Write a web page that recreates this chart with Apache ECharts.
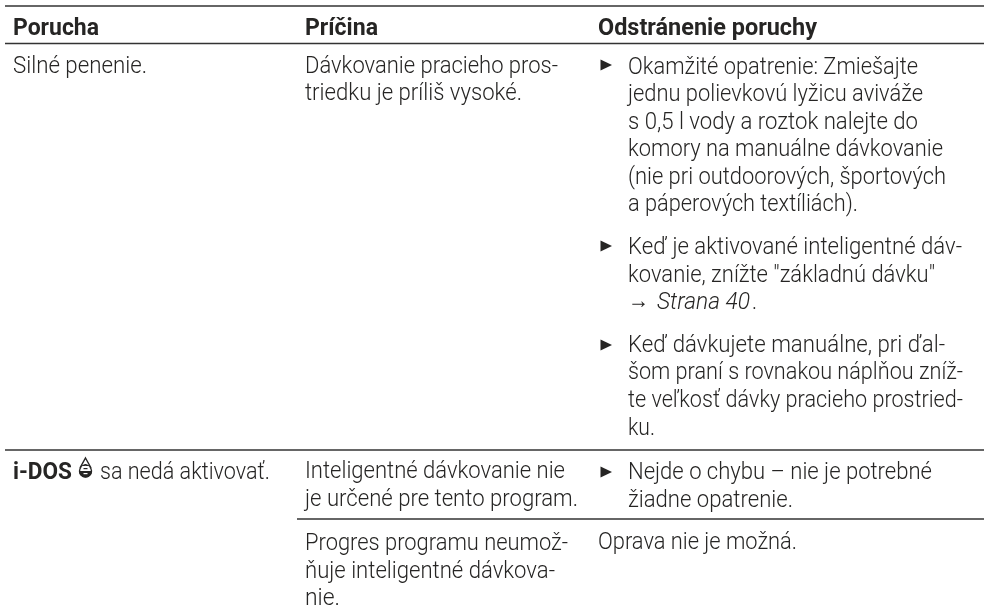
<!DOCTYPE html>
<html><head><meta charset="utf-8">
<style>html,body{margin:0;padding:0;background:#fff}#c{width:984px;height:611px}</style>
<script src="https://cdn.jsdelivr.net/npm/echarts@6/dist/echarts.min.js"></script></head>
<body><div id="c"></div>
<script>
const headers = ['Porucha','Príčina','Odstránenie poruchy'];
const col1Text = ['Silné penenie.'];
const col2Text = ['Dávkovanie pracieho pros-','triedku je príliš vysoké.','Inteligentné dávkovanie nie','je určené pre tento program.','Progres programu neumož-','ňuje inteligentné dávkova-','nie.'];
const col3Text = ['Okamžité opatrenie: Zmiešajte','jednu polievkovú lyžicu aviváže','s 0,5 l vody a roztok nalejte do','komory na manuálne dávkovanie','(nie pri outdoorových, športových','a páperových textíliách).','Keď je aktivované inteligentné dáv-','kovanie, znížte "základnú dávku"','Keď dávkujete manuálne, pri ďal-','šom praní s rovnakou náplňou zníž-','te veľkosť dávky pracieho prostried-','ku.','Nejde o chybu – nie je potrebné','žiadne opatrenie.'];
const crossRefArrow = '→', crossRefText = 'Strana 40', crossRefEnd = '.';
const idosBold = 'i-DOS', idosRest = 'sa nedá aktivovať.';
const noFix = 'Oprava nie je možná.';

// layout, separate from the text
const headerX = [13,305,598], headerEnd = [99,378,817], headerBase = 35;
const col1Base = [73], col1End = [147];
const col2Base = [73,100,478,506,550,578,605], col2End = [558,522,565,578,568,555,340];
const col3Base = [73.5,101,128.5,156,183.5,211,254,282,352,379,407,435,479,507];
const col3End = [918,923,918,943,946,858,962,935,945,963,963,655,932,793];
const bulletY = [65,246,345,472];
const ruleFull = [6,43.5,450], ruleRight = [519];

const ink = '#262524';
const fam = 'Roboto,"Liberation Sans",sans-serif';
const lightF = '300 23.5px '+fam, boldF = '700 24px '+fam, italF = 'italic 300 23.5px '+fam;
const ctx = document.createElement('canvas').getContext('2d');
const fit = (s,f,x0,x1)=>{ctx.font=f;return (x1-x0)/ctx.measureText(s).width;};
const g = [];
const put = (s,x0,x1,base,f,col) => g.push({type:'text',x:x0,y:base-5.7,scaleX:fit(s,f,x0,x1),
  style:{text:s,fill:col||ink,font:f,verticalAlign:'middle',align:'left'}});

ruleFull.forEach(y=>g.push({type:'line',shape:{x1:5,y1:y,x2:984,y2:y},style:{stroke:'#333',lineWidth:1.6}}));
ruleRight.forEach(y=>g.push({type:'line',shape:{x1:297,y1:y,x2:984,y2:y},style:{stroke:'#333',lineWidth:1.6}}));
headers.forEach((s,i)=>put(s,headerX[i],headerEnd[i],headerBase,boldF));
col1Text.forEach((s,i)=>put(s,13,col1End[i],col1Base[i],lightF));
col2Text.forEach((s,i)=>put(s,305,col2End[i],col2Base[i],lightF));
col3Text.forEach((s,i)=>put(s,628,col3End[i],col3Base[i],lightF));
bulletY.forEach(y=>g.push({type:'polygon',shape:{points:[[600.5,y-5.5],[612,y],[600.5,y+5.5]]},style:{fill:ink}}));
put(crossRefArrow,628,649,307.5,'400 24px "Liberation Sans",sans-serif');
put(crossRefText,657,750,309,italF);
put(crossRefEnd,752,757,309,lightF);
put(idosBold,13,72,479,'700 23.5px '+fam);
put(idosRest,100,270,479,lightF);
put(noFix,598,797,549,lightF);
// i-DOS drop icon
g.push({type:'polygon',shape:{points:[[85.5,458],[90.5,467],[80.5,467]]},style:{fill:'#fff',stroke:ink,lineWidth:1.4}});
g.push({type:'circle',shape:{cx:85.5,cy:471,r:6},style:{fill:'#fff',stroke:ink,lineWidth:1.4}});
g.push({type:'polygon',shape:{points:[[82.5,466],[88.5,466],[90,467.5],[81,467.5]]},style:{fill:'#fff'}});
g.push({type:'sector',shape:{cx:85.5,cy:471,r:6.5,r0:0,startAngle:0,endAngle:Math.PI},style:{fill:ink}});
g.push({type:'rect',shape:{x:83.5,y:473,width:4,height:1.2},style:{fill:'#fff'}});
g.push({type:'rect',shape:{x:83.5,y:468,width:4,height:1.2},style:{fill:ink}});
g.push({type:'rect',shape:{x:84.5,y:464,width:2,height:1.2},style:{fill:ink}});

const chart = echarts.init(document.getElementById('c'),null,{renderer:'canvas'});
chart.setOption({animation:false,graphic:{elements:g}});
</script></body></html>
